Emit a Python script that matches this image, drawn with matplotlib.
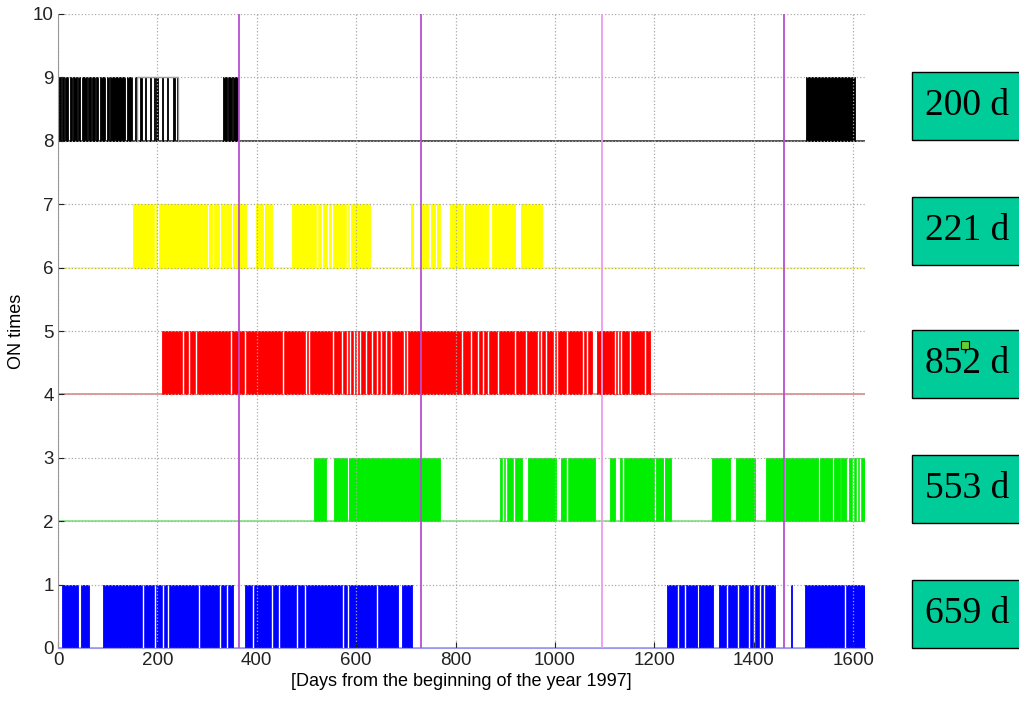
import numpy as np
import matplotlib
matplotlib.use("Agg")
import matplotlib.pyplot as plt
from matplotlib.patches import Rectangle

# ON intervals (day start, day end), one list per device
black_on = [(1, 7), (9, 13), (15, 21), (24, 28), (31, 38), (40, 44), (48, 58), (61, 66),
            (69, 74), (76, 80), (85, 95), (98, 103), (105, 135), (138, 149), (155, 159),
            (166, 169), (176, 178), (185, 188), (194, 196), (198, 202), (209, 212),
            (219, 222), (232, 235), (239, 241), (332, 340), (342, 350), (352, 362),
            (1506, 1604)]
black_hollow = [(159, 241)]
yellow_on = [(151, 289), (292, 299), (304, 309), (314, 323), (328, 336), (339, 349),
             (353, 378), (398, 413), (417, 431), (471, 628), (710, 714), (733, 744),
             (750, 758), (763, 768), (789, 812), (819, 865), (873, 920), (932, 974)]
red_on = [(210, 1074), (1084, 1191)]
green_on = [(516, 540), (555, 582), (586, 768), (889, 934), (946, 1002), (1012, 1081),
            (1110, 1121), (1131, 1199), (1204, 1218), (1221, 1233), (1317, 1352),
            (1365, 1402), (1425, 1530), (1533, 1557), (1561, 1573), (1576, 1585),
            (1591, 1624)]
blue_on = [(8, 40), (46, 63), (90, 352), (376, 685), (692, 713), (1225, 1286),
           (1289, 1318), (1330, 1443), (1476, 1478), (1503, 1624)]

# short switch-offs inside the ON blocks
yellow_off = [195, 202, 521, 531, 543, 551, 581, 588]
red_off = [251, 264, 278, 349, 376, 452, 499, 505, 553, 571, 581, 588, 596, 601, 608,
           620, 631, 641, 651, 661, 671, 696, 703, 812, 832, 846, 856, 866, 886, 920,
           942, 965, 971, 983, 999, 1005, 1024, 1057, 1064, 1121, 1127, 1133, 1151, 1181]
green_off = [895, 901, 918, 1024, 1137, 1462, 1600, 1607, 1614]
blue_off = [171, 195, 211, 221, 284, 326, 340, 392, 431, 445, 481, 497, 573, 583, 642,
            1248, 1262, 1346, 1368, 1390, 1400, 1412, 1420, 1584]

bases = [8, 6, 4, 2, 0]
colors = ['black', '#ffff00', '#ff0000', '#00ee00', '#0000ff']
base_colors = ['#333333', '#ffff66', '#f08080', '#80e080', '#9999ee']
totals = ["200 d", "221 d", "852 d", "553 d", "659 d"]
year_days = [365, 730, 1095, 1460]
year_colors = ['#b84fd0', '#b84fd0', '#ee99ee', '#b84fd0']

all_on = [black_on, yellow_on, red_on, green_on, blue_on]
all_off = [[], yellow_off, red_off, green_off, blue_off]

plt.rcParams['font.family'] = ['Liberation Sans', 'DejaVu Sans']
fig = plt.figure(figsize=(10.19, 7.02), dpi=100)
ax = fig.add_axes([58/1019, 54/702, 807/1019, 634/702])
xmax = 1624

for k in range(5):
    b = bases[k]
    ax.plot([0, xmax], [b, b], color=base_colors[k], lw=1.2, zorder=0.8)
    segs = [(s, e - s) for s, e in all_on[k]]
    ax.broken_barh(segs, (b, 1), facecolors=colors[k], edgecolor=colors[k], lw=0.6, zorder=1)
    if all_off[k]:
        ax.vlines(all_off[k], b, 1 + b, color='white', lw=1.0, zorder=1.1)

for s, e in black_hollow:
    ax.plot([s, s, e, e], [8, 9, 9, 8], color='#999999', lw=1, zorder=1.2)

for d, c in zip(year_days, year_colors):
    ax.axvline(d, color=c, lw=1.3, zorder=3)

ax.set_xlim(0, xmax)
ax.set_ylim(0, 10)
ax.set_xticks(np.arange(0, 1601, 200))
ax.set_yticks(np.arange(0, 11, 1))
ax.grid(True, linestyle=':', color='#aaaaaa', lw=0.9)
ax.tick_params(direction='in', length=4, labelsize=13.5, colors='#222222', pad=3)
for sp in ['top', 'right']:
    ax.spines[sp].set_visible(False)
ax.spines['left'].set_color('#999999')
ax.spines['bottom'].set_color('#9999ee')
ax.set_ylabel('ON times', fontsize=13, labelpad=6)
ax.set_xlabel('[Days from the beginning of the year 1997]', fontsize=13, labelpad=3)

# boxes with total ON time per device
box_tops = [72, 197, 330, 455, 580]
for top, lab in zip(box_tops, totals):
    y0 = 1 - (top + 68) / 702
    fig.patches.append(Rectangle((912/1019, y0), 0.2, 68/702, transform=fig.transFigure,
                                 facecolor='#00cc99', edgecolor='black', lw=1))
    fig.text(925/1019, y0 + 34/702, lab, family='Liberation Serif', fontsize=27,
             va='center', ha='left')

# small green marker over the 852 d label
fig.patches.append(Rectangle((961/1019, 1 - 349/702), 8/1019, 8/702, transform=fig.transFigure,
                             facecolor='#66cc33', edgecolor='black', lw=0.8, zorder=5))

fig.savefig('out.png', dpi=100)
